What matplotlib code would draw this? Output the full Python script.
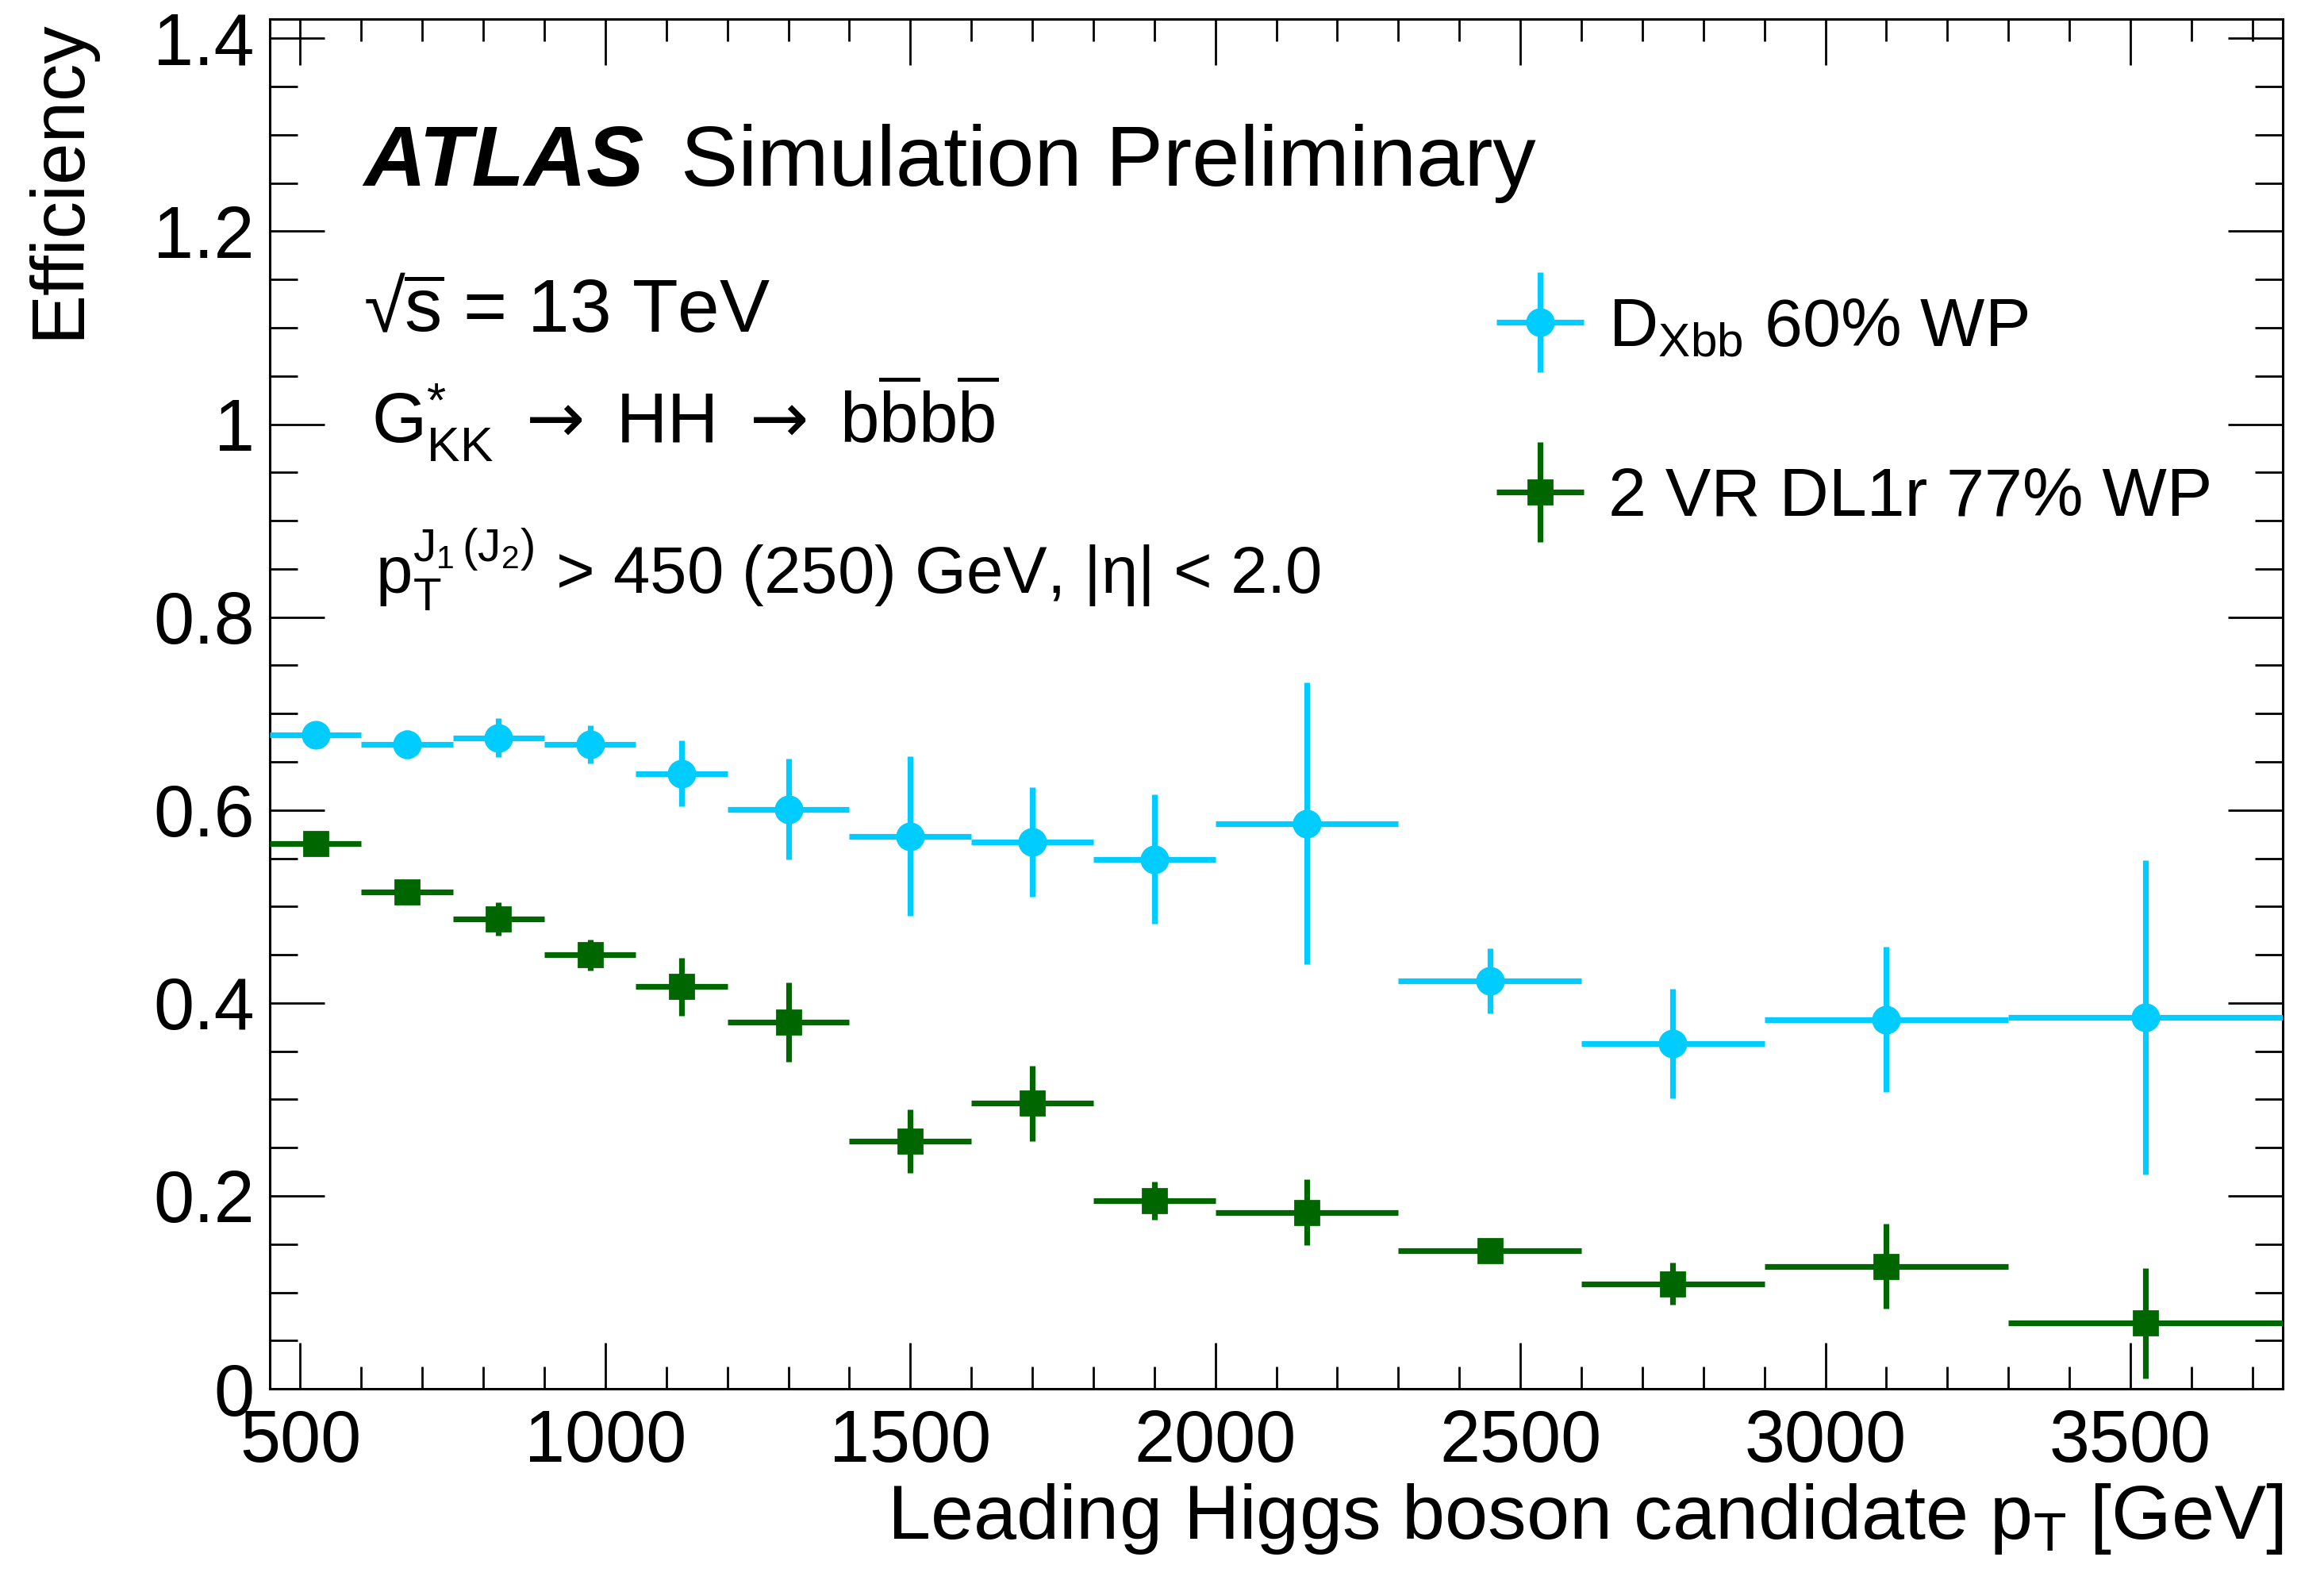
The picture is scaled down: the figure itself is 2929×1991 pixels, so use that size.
import matplotlib
matplotlib.use("Agg")
import matplotlib.pyplot as plt
from matplotlib.ticker import MultipleLocator, FuncFormatter
from matplotlib.container import ErrorbarContainer
from matplotlib.legend_handler import HandlerErrorbar
import numpy as np

plt.rcParams['font.family'] = ['Liberation Sans', 'DejaVu Sans']
plt.rcParams['mathtext.fontset'] = 'custom'
plt.rcParams['mathtext.rm'] = 'Liberation Sans'
plt.rcParams['mathtext.it'] = 'Liberation Sans:italic'
plt.rcParams['mathtext.bf'] = 'Liberation Sans:bold'
plt.rcParams['mathtext.sf'] = 'DejaVu Sans'  # only used for the arrows

# leading Higgs candidate pT bins [GeV]
bin_edges = [450, 600, 750, 900, 1050, 1200, 1400, 1600, 1800, 2000, 2300, 2600, 2900, 3300, 3750]

# D_Xbb 60% WP
eff_xbb = [0.678, 0.668, 0.675, 0.668, 0.638, 0.601, 0.573, 0.567, 0.549, 0.586, 0.423, 0.358, 0.383, 0.385]
err_xbb = [0.008, 0.015, 0.020, 0.020, 0.034, 0.052, 0.083, 0.057, 0.067, 0.146, 0.034, 0.057, 0.075, 0.163]

# 2 VR DL1r 77% WP
eff_vr = [0.565, 0.515, 0.487, 0.450, 0.417, 0.380, 0.257, 0.296, 0.195, 0.183, 0.143, 0.109, 0.127, 0.068]
err_vr = [0.008, 0.008, 0.017, 0.016, 0.030, 0.041, 0.033, 0.039, 0.020, 0.034, 0.012, 0.022, 0.044, 0.057]

label_xbb = r'D$_{\mathregular{Xbb}}$ 60% WP'
label_vr = '2 VR DL1r 77% WP'

cyan = '#00ccff'
green = '#006600'

edges = np.array(bin_edges, dtype=float)
centres = 0.5 * (edges[1:] + edges[:-1])
half = 0.5 * (edges[1:] - edges[:-1])

fig = plt.figure(figsize=(14.645, 9.955), dpi=200)
ax = fig.add_axes([0.1161, 0.1210, 0.8662, 0.8669])

h1 = ax.errorbar(centres, eff_xbb, xerr=half, yerr=err_xbb, fmt='o', color=cyan,
                 ms=12, elinewidth=2.6, capsize=0, label=label_xbb, zorder=3)
h2 = ax.errorbar(centres, eff_vr, xerr=half, yerr=err_vr, fmt='s', color=green,
                 ms=11, elinewidth=2.6, capsize=0, label=label_vr, zorder=3)

ax.set_xlim(450, 3750)
ax.set_ylim(0, 1.42)

ax.xaxis.set_major_locator(MultipleLocator(500))
ax.xaxis.set_minor_locator(MultipleLocator(100))
ax.yaxis.set_major_locator(MultipleLocator(0.2))
ax.yaxis.set_minor_locator(MultipleLocator(0.05))
ax.yaxis.set_major_formatter(FuncFormatter(lambda v, p: '%g' % round(v, 2)))

ax.tick_params(which='both', direction='in', top=True, right=True, width=1.0, labelsize=33)
ax.tick_params(axis='x', which='major', length=21, pad=9)
ax.tick_params(axis='x', which='minor', length=10)
ax.tick_params(axis='y', which='major', length=25, pad=7)
ax.tick_params(axis='y', which='minor', length=12.5)
for s in ax.spines.values():
    s.set_linewidth(1.1)

ax.set_xlabel(r'Leading Higgs boson candidate p$_{\mathregular{T}}$ [GeV]', fontsize=35, loc='right')
ax.xaxis.set_label_coords(1.0, -0.068)
ax.xaxis.label.set_va('top')
ax.set_ylabel('Efficiency', fontsize=34, loc='top')
ax.yaxis.set_label_coords(-0.087, 1.0)

# ATLAS label and info text
ax.text(0.0465, 0.8786, 'ATLAS', transform=ax.transAxes, fontsize=39,
        fontweight='bold', fontstyle='italic', va='baseline')
ax.text(0.2042, 0.8786, 'Simulation Preliminary', transform=ax.transAxes,
        fontsize=39, va='baseline')
ax.text(0.0465, 0.772, r'√$\overline{\mathregular{s}}$ = 13 TeV', transform=ax.transAxes,
        fontsize=34, va='baseline')
ax.text(0.0505, 0.6906,
        r'$\mathregular{G^{*}_{KK}}\ \mathsf{\rightarrow}\ \mathregular{HH}\ \mathsf{\rightarrow}\ '
        r'\mathregular{b\overline{b}b\overline{b}}$',
        transform=ax.transAxes, fontsize=32, va='baseline')
ax.text(0.0525, 0.5805, r'$\mathregular{p_{T}^{J_{1}\,(J_{2})}}$ > 450 (250) GeV, |η| < 2.0',
        transform=ax.transAxes, fontsize=30, va='baseline')

ax.legend(handles=[h1, h2], labels=[label_xbb, label_vr], loc='upper left',
          bbox_to_anchor=(0.609, 0.797), frameon=False, fontsize=31,
          handlelength=1.3, handletextpad=0.35, labelspacing=1.55,
          borderpad=0, borderaxespad=0,
          handler_map={ErrorbarContainer: HandlerErrorbar(xerr_size=0.64, yerr_size=0.73)})

fig.savefig('out.png', dpi=200)
